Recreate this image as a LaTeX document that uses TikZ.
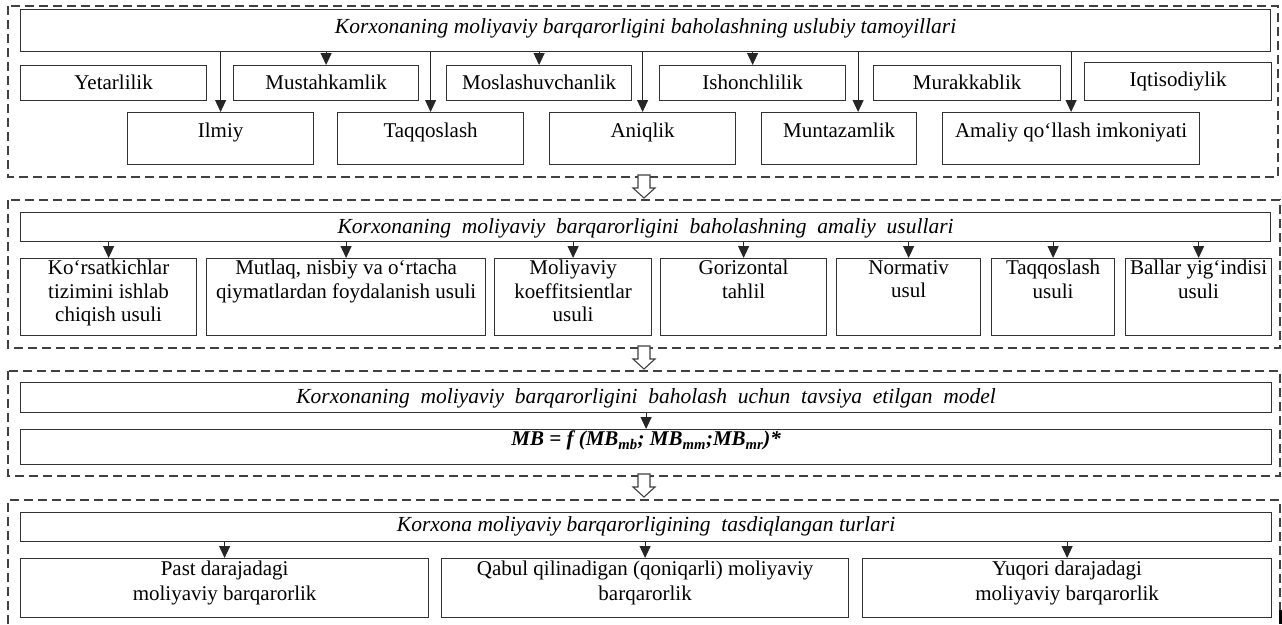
\documentclass[tikz,border=0pt]{standalone}
\usepackage{fontspec}
\setmainfont{Liberation Serif}
\usetikzlibrary{arrows.meta,positioning}

\begin{document}
\begin{tikzpicture}[
        x=1pt, y=-1pt,
        >={Triangle[width=11pt,length=12pt]},
        frame/.style={draw=black!75, line width=1.2pt, dash pattern=on 9pt off 5pt},
        cell/.style={rectangle, draw=black!80, line width=1.2pt, anchor=north west, inner sep=0pt},
        txt/.style={anchor=north, inner sep=0pt, align=center, font=\fontsize{21}{23.5}\selectfont},
        ttl/.style={txt, font=\fontsize{21.5}{24}\selectfont\itshape},
        link/.style={->, line width=1pt, draw=black!85},
        hollow/.style={draw=black!75, line width=1.1pt, fill=white, line join=miter}
    ]
        \useasboundingbox (0,0) rectangle (1282,624);

        % Dashed section frames
        \draw[frame] (8,6) rectangle (1278,177);
        \draw[frame] (8,200) rectangle (1280,348);
        \draw[frame] (8,371) rectangle (1280,476);
        \draw[frame] (8,624) |- (1280,500) -- (1280,624);
        \draw[line width=3pt] (1280,610) -- (1280,624);

        % Principles
        \node[cell, minimum width=1250pt, minimum height=42pt,
              label={[ttl, yshift=-9pt]north:Korxonaning moliyaviy barqarorligini baholashning uslubiy tamoyillari}] (t1) at (20,9) {};
        \foreach \xa/\xb/\ya/\txt [count=\i] in {20/206/65/Yetarlilik, 233/418/65/Mustahkamlik, 446/631/65/Moslashuvchanlik,
                659/845/65/Ishonchlilik, 873/1060/65/Murakkablik, 1084/1271/62/Iqtisodiylik} {
            \node[cell, minimum width=\xb pt-\xa pt, minimum height=100pt-\ya pt,
                  label={[txt, yshift=-10pt]north:\txt}] (p\i) at (\xa,\ya) {};
        }
        \foreach \xa/\xb/\txt [count=\i] in {127/313/Ilmiy, 337/523/Taqqoslash, 549/735/Aniqlik, 761/916/Muntazamlik,
                942/1199/{Amaliy qo‘llash imkoniyati}} {
            \node[cell, minimum width=\xb pt-\xa pt, minimum height=52pt,
                  label={[txt, yshift=-11pt]north:\txt}] (q\i) at (\xa,112) {};
        }
        \foreach \n in {q1, p2, q2, p3, q3, p4, q5} {
            \draw[link] (\n.north |- t1.south) -- (\n.north);
        }
        \coordinate (q4a) at ([xshift=19pt]q4.north);
        \draw[link] (q4a |- t1.south) -- (q4a);

        % Methods
        \node[cell, minimum width=1250pt, minimum height=29pt,
              label={[ttl, yshift=-6pt]north:Korxonaning~~moliyaviy~~barqarorligini~~baholashning~~amaliy~~usullari}] (t2) at (20,212) {};
        \foreach \xa/\xb/\txt [count=\i] in {20/196/{Ko‘rsatkichlar\\tizimini ishlab\\chiqish usuli},
                206/485/{Mutlaq, nisbiy va o‘rtacha\\qiymatlardan foydalanish usuli},
                494/651/{Moliyaviy\\koeffitsientlar\\usuli}, 660/826/{Gorizontal\\tahlil},
                836/980/{Normativ\\usul}, 991/1114/{Taqqoslash\\usuli}, 1125/1271/{Ballar yig‘indisi\\usuli}} {
            \node[cell, minimum width=\xb pt-\xa pt, minimum height=77pt,
                  label={[txt, yshift=-2pt]north:\txt}] (m\i) at (\xa,258) {};
            \draw[link] (m\i.north |- t2.south) -- (m\i.north);
        }

        % Model
        \node[cell, minimum width=1251pt, minimum height=30pt,
              label={[ttl, yshift=-6pt]north:Korxonaning~~moliyaviy~~barqarorligini~~baholash~~uchun~~tavsiya~~etilgan~~model}] (t3) at (20,382) {};
        \node[cell, minimum width=1251pt, minimum height=35pt,
              label={[txt, yshift=-2pt, font=\fontsize{21}{24}\selectfont\bfseries\itshape]north:MB = f (MB\textsubscript{mb}; MB\textsubscript{mm};MB\textsubscript{mr})*}] (mb) at (20,429) {};
        \draw[link] (t3) -- (mb);

        % Types
        \node[cell, minimum width=1251pt, minimum height=29pt,
              label={[ttl, yshift=-4pt]north:Korxona moliyaviy barqarorligining~~tasdiqlangan turlari}] (t4) at (20,512) {};
        \foreach \xa/\xb/\txt [count=\i] in {20/428/{Past darajadagi\\moliyaviy barqarorlik},
                441/848/{Qabul qilinadigan (qoniqarli) moliyaviy\\barqarorlik}, 862/1271/{Yuqori darajadagi\\moliyaviy barqarorlik}} {
            \node[cell, minimum width=\xb pt-\xa pt, minimum height=59pt,
                  label={[txt, yshift=-3pt, font=\fontsize{21}{25}\selectfont]north:\txt}] (k\i) at (\xa,558) {};
            \draw[link] (k\i.north |- t4.south) -- (k\i.north);
        }

        % Hollow arrows between sections
        \foreach \ya in {175, 346, 474} {
            \draw[hollow] (638,\ya) -- (650,\ya) -- (650,\ya+13) -- (655,\ya+13) -- (644,\ya+23)
                -- (633,\ya+13) -- (638,\ya+13) -- cycle;
        }
    \end{tikzpicture}
\end{document}
